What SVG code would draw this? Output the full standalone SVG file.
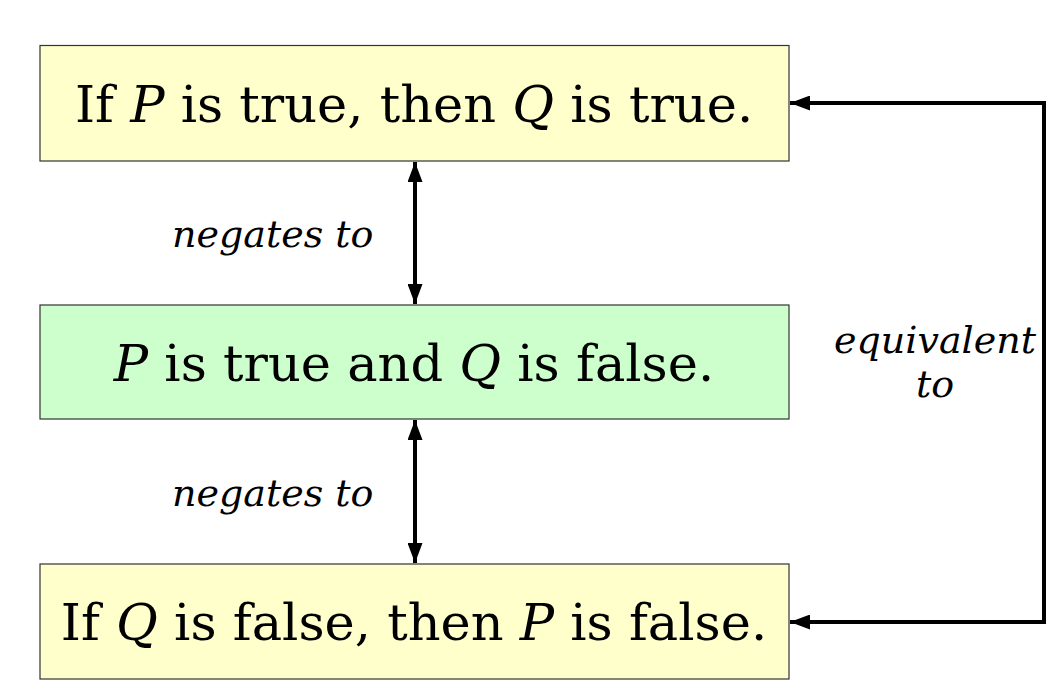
<svg xmlns="http://www.w3.org/2000/svg" width="1057" height="699" viewBox="0 0 1057 699">
<defs>
<style>
.box{stroke:#333;stroke-width:1.2}
.y{fill:#ffffcc}
.g{fill:#ccffcc}
.t{font-family:"DejaVu Serif",serif;font-size:51px;fill:#000;text-anchor:middle}
.l{font-family:"DejaVu Serif",serif;font-size:38px;font-style:italic;fill:#000}
.c{fill:none;stroke:#000;stroke-width:4}
</style>
<marker id="ah" viewBox="0 0 20 15" refX="20" refY="7.5" markerWidth="20" markerHeight="15" markerUnits="userSpaceOnUse" orient="auto-start-reverse">
<path d="M0,0 L20,7.5 L0,15 Z" fill="#000"/>
</marker>
</defs>
<rect width="1057" height="699" fill="#fff"/>
<g id="connectors">
<line class="c" x1="415" y1="162" x2="415" y2="304" marker-start="url(#ah)" marker-end="url(#ah)"/>
<line class="c" x1="415" y1="420" x2="415" y2="563" marker-start="url(#ah)" marker-end="url(#ah)"/>
<polyline class="c" points="790,622 1044,622 1044,103 790,103" marker-start="url(#ah)" marker-end="url(#ah)"/>
<text class="l" x="172" y="247">negates to</text>
<text class="l" x="172" y="506">negates to</text>
<text class="l" x="935" y="353" text-anchor="middle">equivalent</text>
<text class="l" x="935" y="397" text-anchor="middle">to</text>
</g>
<g id="n1">
<rect class="box y" x="40" y="45.5" width="749" height="115.5"/>
<text class="t" x="414" y="122">If <tspan font-style="italic">P</tspan> is true, then <tspan font-style="italic">Q</tspan> is true.</text>
</g>
<g id="n2">
<rect class="box g" x="40" y="305" width="749" height="114"/>
<text class="t" x="414" y="381"><tspan font-style="italic">P</tspan> is true and <tspan font-style="italic">Q</tspan> is false.</text>
</g>
<g id="n3">
<rect class="box y" x="40" y="564" width="749" height="115"/>
<text class="t" x="414" y="640">If <tspan font-style="italic">Q</tspan> is false, then <tspan font-style="italic">P</tspan> is false.</text>
</g>
</svg>
